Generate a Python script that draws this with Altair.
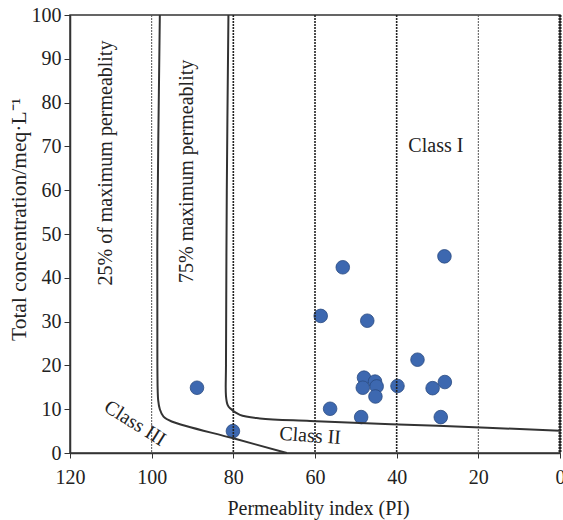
import altair as alt
import pandas as pd

# --- data ---
pi_vals = [88.9, 80.1, 53.2, 28.3, 58.6, 47.2, 34.9, 48.0, 45.3, 48.3, 44.9, 45.2,
           39.8, 31.2, 28.2, 56.3, 48.7, 29.2]
tc_vals = [14.9, 5.0, 42.4, 44.9, 31.3, 30.2, 21.3, 17.2, 16.3, 14.9, 15.2, 12.9,
           15.3, 14.8, 16.2, 10.1, 8.2, 8.2]

curve25_x = [98.0, 98.6, 98.6, 98.4, 98.0, 97.1, 95.1, 80.0, 66.9]
curve25_y = [100, 50, 20, 12, 10, 8.3, 7.2, 3.35, 0]

curve75_x = [81.2, 81.6, 81.8, 81.8, 81.4, 80.8, 78.4, 73.5, 61.2, 30.0, 0.0]
curve75_y = [100, 60, 20, 13, 11, 10.2, 8.7, 7.9, 7.3, 6.2, 5.1]

light_guides = [100, 20]
dark_guides = [80, 60, 40]
edge_guide = [0]

x_ticks = [120, 100, 80, 60, 40, 20, 0]
y_ticks = [0, 10, 20, 30, 40, 50, 60, 70, 80, 90, 100]

FONT = "Liberation Serif"

pts = pd.DataFrame({"pi": pi_vals, "tc": tc_vals})
c25 = pd.DataFrame({"pi": curve25_x, "tc": curve25_y, "i": range(len(curve25_x))})
c75 = pd.DataFrame({"pi": curve75_x, "tc": curve75_y, "i": range(len(curve75_x))})

xs = alt.Scale(domain=[0, 120], reverse=True, nice=False)
ys = alt.Scale(domain=[0, 100], nice=False)

xenc = alt.X("pi:Q", scale=xs, axis=alt.Axis(
    values=x_ticks, title="Permeablity index (PI)", grid=False,
    labelFont=FONT, labelFontSize=20, labelColor="#222", labelPadding=9,
    tickSize=5, tickColor="#333", domainColor="#333", domainWidth=1.5,
    titleFont=FONT, titleFontSize=20, titleFontWeight="normal", titleColor="#222",
    titleBaseline="alphabetic", titleY=61, titleX=248,
    labelFlush=False))
yenc = alt.Y("tc:Q", scale=ys, axis=alt.Axis(
    values=y_ticks, title="Total concentration/meq·L⁻¹", grid=False,
    labelFont=FONT, labelFontSize=20, labelColor="#222", labelPadding=3,
    tickSize=6, tickColor="#333", domainColor="#333", domainWidth=1.5,
    titleFont=FONT, titleFontSize=21.5, titleFontWeight="normal", titleColor="#222",
    titleAngle=-90, titleBaseline="alphabetic", titleAlign="center",
    titleX=-45, titleY=204, labelFlush=False))

base = alt.Chart(pts)

light = alt.Chart(pd.DataFrame({"pi": light_guides})).mark_rule(
    color="#555", strokeWidth=1, strokeDash=[2, 1]).encode(x=alt.X("pi:Q", scale=xs))
dark = alt.Chart(pd.DataFrame({"pi": dark_guides})).mark_rule(
    color="#222", strokeWidth=1.6, strokeDash=[2, 1]).encode(x=alt.X("pi:Q", scale=xs))
edge = alt.Chart(pd.DataFrame({"pi": edge_guide})).mark_rule(
    color="#222", strokeWidth=3, strokeDash=[2, 1]).encode(x=alt.X("pi:Q", scale=xs))

line25 = alt.Chart(c25).mark_line(color="#333", strokeWidth=2, interpolate="catmull-rom").encode(
    x=alt.X("pi:Q", scale=xs), y=alt.Y("tc:Q", scale=ys), order="i:O")
line75 = alt.Chart(c75).mark_line(color="#333", strokeWidth=2, interpolate="catmull-rom").encode(
    x=alt.X("pi:Q", scale=xs), y=alt.Y("tc:Q", scale=ys), order="i:O")

points = base.mark_point(filled=True, size=185, color="#3d68b0", opacity=1,
                         stroke="#2a4a80", strokeWidth=0.8).encode(x=xenc, y=yenc)

lab_vert = pd.DataFrame({"pi": [111.2, 91.4], "tc": [66.2, 64.3],
                         "t": ["25% of maximum permeablity", "75% maximum permeablity"]})
vert = alt.Chart(lab_vert).mark_text(font=FONT, fontSize=20, angle=270, align="center",
                                     baseline="middle", color="#222").encode(
    x=alt.X("pi:Q", scale=xs), y=alt.Y("tc:Q", scale=ys), text="t:N")

c1 = alt.Chart(pd.DataFrame({"pi": [30.4], "tc": [70.0], "t": ["Class I"]})).mark_text(
    font=FONT, fontSize=20, align="center", baseline="middle", color="#222").encode(
    x=alt.X("pi:Q", scale=xs), y=alt.Y("tc:Q", scale=ys), text="t:N")
c2 = alt.Chart(pd.DataFrame({"pi": [61.2], "tc": [3.9], "t": ["Class II"]})).mark_text(
    font=FONT, fontSize=20, align="center", baseline="middle", angle=4, color="#222").encode(
    x=alt.X("pi:Q", scale=xs), y=alt.Y("tc:Q", scale=ys), text="t:N")
c3 = alt.Chart(pd.DataFrame({"pi": [104.1], "tc": [6.8], "t": ["Class III"]})).mark_text(
    font=FONT, fontSize=20, align="center", baseline="middle", angle=32, color="#222").encode(
    x=alt.X("pi:Q", scale=xs), y=alt.Y("tc:Q", scale=ys), text="t:N")

chart = alt.layer(points, light, dark, edge, line25, line75, vert, c1, c2, c3).properties(
    width=490, height=438,
    autosize=alt.AutoSizeParams(type="none"),
    padding={"left": 70, "top": 15, "right": 3, "bottom": 67},
).configure(background="white", font=FONT).configure_view(
    stroke="#333", strokeWidth=1.5
).configure_axis(labelFont=FONT, titleFont=FONT).configure_text(font=FONT)

chart.save("out.html", embed_options={"renderer": "svg", "actions": False})
